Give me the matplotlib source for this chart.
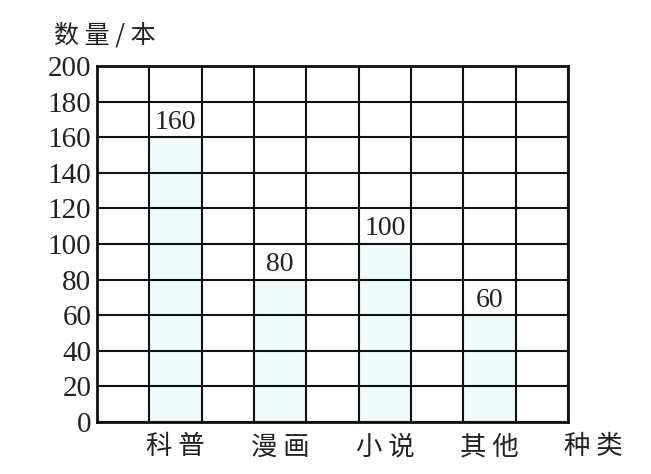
import numpy as np
import matplotlib
matplotlib.use("Agg")
import matplotlib.pyplot as plt

plt.rcParams['font.family'] = ['Noto Sans CJK SC', 'DejaVu Sans']

# data
categories = ["科普", "漫画", "小说", "其他"]
counts = [160, 80, 100, 60]
y_ticks = list(range(0, 201, 20))
y_label = "数量/本"
x_label = "种类"

serif = ['Liberation Serif', 'DejaVu Serif']


def spaced(s):
    # the print has a small gap between the characters
    return " ".join(s)


fig = plt.figure(figsize=(6.51, 4.74), dpi=100)
ax = fig.add_axes([97 / 651, 52 / 474, 471 / 651, 356 / 474])

# bars sit in every second column of the 9-column grid
bar_x = np.arange(len(categories)) * 2 + 1.5
ax.bar(bar_x, counts, width=1.0, color="#eefbfa", edgecolor="none", zorder=1)

for xx, vv in zip(bar_x, counts):
    ax.text(xx, vv + 1.5, str(vv), ha="center", va="bottom", fontsize=20,
            family=serif, color="#222222", zorder=3)

ax.set_xlim(0, 9)
ax.set_ylim(0, 200)
ax.set_xticks(np.arange(0, 10))
ax.set_yticks(y_ticks)
ax.grid(True, color="#111111", linewidth=1.5, zorder=2)
ax.set_axisbelow(False)
ax.tick_params(length=0, labelbottom=False)
ax.set_yticklabels([str(t) for t in y_ticks], family=serif, fontsize=21, color="#222222")
ax.tick_params(axis="y", pad=4)
for sp in ax.spines.values():
    sp.set_linewidth(2)
    sp.set_color("#111111")
    sp.set_zorder(3)

# category names under the bars
for xx, name in zip(bar_x, categories):
    ax.text(xx, -14, spaced(name), ha="center", va="center", fontsize=19, color="#222222",
            clip_on=False)
ax.text(9.48, -14, spaced(x_label), ha="center", va="center", fontsize=19, color="#222222",
        clip_on=False)
ax.text(0.15, 217, spaced(y_label), ha="center", va="center", fontsize=18, color="#222222",
        clip_on=False)

fig.savefig("out.png", dpi=100)
